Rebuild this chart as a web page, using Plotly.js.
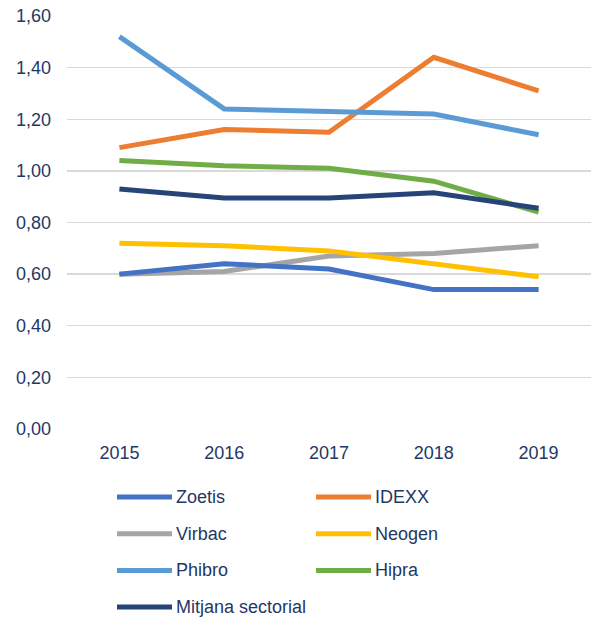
<!DOCTYPE html>
<html>
<head>
<meta charset="utf-8">
<script src="https://cdn.plot.ly/plotly-3.0.1.min.js"></script>
<style>html,body{margin:0;padding:0;background:#fff;}#chart{width:591px;height:618px;}</style>
</head>
<body>
<div id="chart"></div>
<script>
const years = ['2015', '2016', '2017', '2018', '2019'];
const seriesNames = ['Zoetis', 'IDEXX', 'Virbac', 'Neogen', 'Phibro', 'Hipra', 'Mitjana sectorial'];
const zoetis  = [0.60, 0.64, 0.62, 0.54, 0.54];
const idexx   = [1.09, 1.16, 1.15, 1.44, 1.31];
const virbac  = [0.60, 0.61, 0.67, 0.68, 0.71];
const neogen  = [0.72, 0.71, 0.69, 0.64, 0.59];
const phibro  = [1.52, 1.24, 1.23, 1.22, 1.14];
const hipra   = [1.04, 1.02, 1.01, 0.96, 0.84];
const mitjana = [0.93, 0.895, 0.895, 0.915, 0.855];
const yTicks = [0, 0.2, 0.4, 0.6, 0.8, 1.0, 1.2, 1.4, 1.6];

const values = [zoetis, idexx, virbac, neogen, phibro, hipra, mitjana];
const colors = ['#4472C4', '#ED7D31', '#A5A5A5', '#FFC000', '#5B9BD5', '#70AD47', '#264478'];
const textColor = '#1F3864';
const font = 'Arial, "Liberation Sans", sans-serif';

// draw order: match overlaps in reference (Mitjana on top)
const order = [2, 0, 3, 5, 1, 4, 6];
const traces = order.map(i => ({
  x: years, y: values[i], name: seriesNames[i], type: 'scatter', mode: 'lines',
  line: {color: colors[i], width: 5}, showlegend: false, hoverinfo: 'skip'
}));

// plot geometry (px)
const W = 591, H = 618, ml = 67, mr = 0, mt = 16, mb = 189;
const pw = W - ml - mr, ph = H - mt - mb;
const px2x = p => (p - ml) / pw;
const py2y = p => (H - mb - p) / ph;

// manual legend in two columns
const shapes = [], annotations = [];
seriesNames.forEach((n, i) => {
  const col = i % 2, row = Math.floor(i / 2);
  const x0 = 117 + col * 199, yy = 497 + row * 36.7;
  shapes.push({type: 'line', xref: 'paper', yref: 'paper',
    x0: px2x(x0), x1: px2x(x0 + 55), y0: py2y(yy), y1: py2y(yy),
    line: {color: colors[i], width: 5}});
  annotations.push({xref: 'paper', yref: 'paper', x: px2x(x0 + 57), y: py2y(yy),
    xanchor: 'left', yanchor: 'middle', showarrow: false, text: n,
    font: {family: font, size: 18, color: textColor}});
});

const layout = {
  width: W, height: H,
  margin: {l: ml, r: mr, t: mt, b: mb, pad: 0},
  paper_bgcolor: '#fff', plot_bgcolor: '#fff',
  separators: ', ',
  font: {family: font, size: 18, color: textColor},
  xaxis: {type: 'category', range: [-0.5, 4.5], showgrid: false, zeroline: false,
    showline: false, ticks: '', ticklabelstandoff: 11, fixedrange: true},
  yaxis: {range: [0, 1.6], tickvals: yTicks, tickformat: '.2f', showgrid: true,
    gridcolor: '#D9D9D9', gridwidth: 1.3, zeroline: false, showline: false, ticks: '',
    ticklabelstandoff: 15, fixedrange: true},
  shapes: shapes, annotations: annotations,
  showlegend: false
};

Plotly.newPlot('chart', traces, layout, {displayModeBar: false, staticPlot: true});
</script>
</body>
</html>
